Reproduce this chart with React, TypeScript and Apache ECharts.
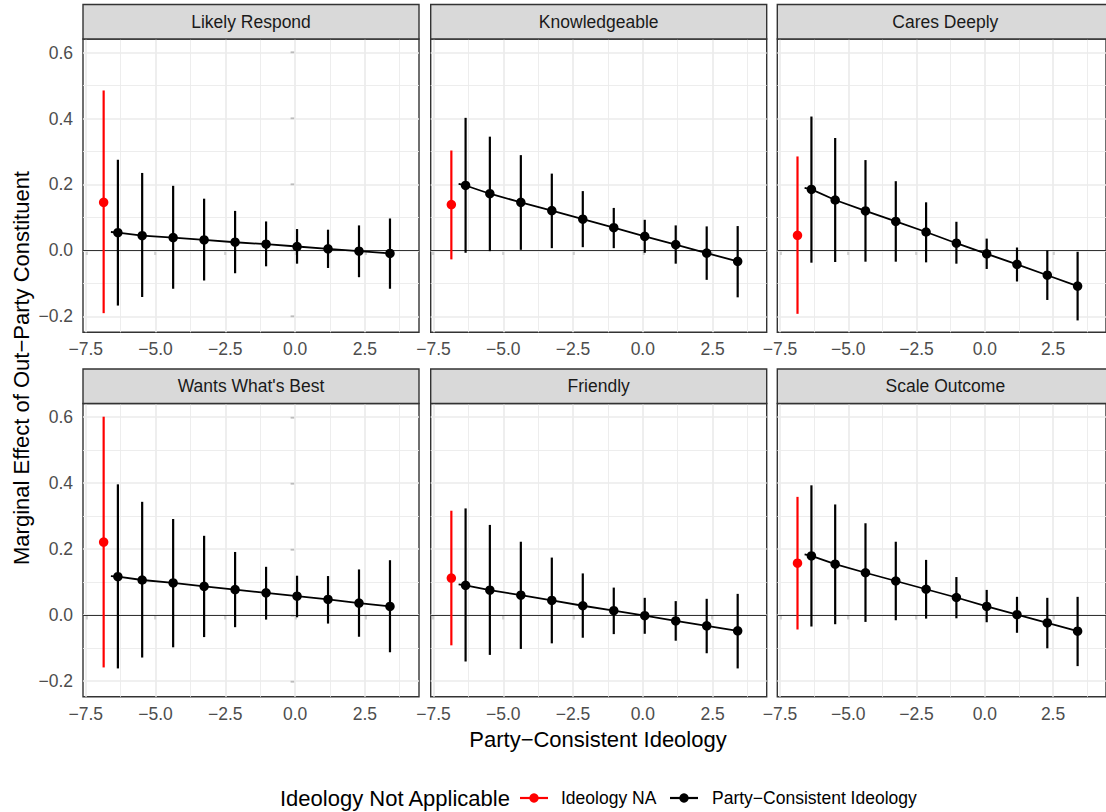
import React, { useEffect, useRef } from "react";
import * as echarts from "echarts";

// ---------- data ----------
const panelNames = [
  "Likely Respond",
  "Knowledgeable",
  "Cares Deeply",
  "Wants What's Best",
  "Friendly",
  "Scale Outcome",
];

const xPositions = [-6.35, -5.48, -4.37, -3.26, -2.15, -1.04, 0.07, 1.18, 2.29, 3.4];
const naX = -6.86;
const fitStartX = -6.6;

const xTickValues = [-7.5, -5, -2.5, 0, 2.5];
const xMinorValues = [-6.25, -3.75, -1.25, 1.25, 3.75];
const yTickValues = [-0.2, 0, 0.2, 0.4, 0.6];
const yMinorValues = [-0.1, 0.1, 0.3, 0.5];

// Likely Respond
const likelyEst = [0.054, 0.045, 0.039, 0.032, 0.025, 0.019, 0.012, 0.005, -0.002, -0.009];
const likelyLo = [-0.167, -0.141, -0.116, -0.091, -0.069, -0.048, -0.04, -0.053, -0.081, -0.116];
const likelyHi = [0.275, 0.235, 0.196, 0.157, 0.12, 0.088, 0.065, 0.063, 0.076, 0.097];
// Knowledgeable
const knowEst = [0.197, 0.172, 0.146, 0.121, 0.095, 0.069, 0.043, 0.018, -0.008, -0.033];
const knowLo = [-0.007, -0.002, 0.002, 0.007, 0.01, 0.007, -0.007, -0.04, -0.089, -0.142];
const knowHi = [0.402, 0.345, 0.289, 0.233, 0.18, 0.129, 0.093, 0.076, 0.073, 0.074];
// Cares Deeply
const caresEst = [0.185, 0.153, 0.12, 0.088, 0.056, 0.022, -0.01, -0.042, -0.075, -0.108];
const caresLo = [-0.037, -0.035, -0.034, -0.034, -0.036, -0.04, -0.056, -0.094, -0.15, -0.212];
const caresHi = [0.406, 0.341, 0.274, 0.21, 0.146, 0.087, 0.036, 0.009, 0.0, -0.004];
// Wants What's Best
const wantsEst = [0.116, 0.106, 0.097, 0.087, 0.077, 0.067, 0.057, 0.047, 0.036, 0.026];
const wantsLo = [-0.162, -0.129, -0.098, -0.067, -0.037, -0.014, -0.007, -0.026, -0.066, -0.113];
const wantsHi = [0.396, 0.343, 0.291, 0.24, 0.191, 0.146, 0.119, 0.118, 0.138, 0.166];
// Friendly
const friendlyEst = [0.09, 0.075, 0.06, 0.044, 0.028, 0.013, -0.002, -0.018, -0.033, -0.048];
const friendlyLo = [-0.141, -0.121, -0.103, -0.086, -0.069, -0.058, -0.057, -0.078, -0.116, -0.162];
const friendlyHi = [0.323, 0.273, 0.222, 0.174, 0.126, 0.083, 0.052, 0.042, 0.049, 0.064];
// Scale Outcome
const scaleEst = [0.179, 0.154, 0.128, 0.103, 0.078, 0.053, 0.026, 0.001, -0.024, -0.049];
const scaleLo = [-0.035, -0.028, -0.021, -0.016, -0.011, -0.01, -0.022, -0.054, -0.101, -0.155];
const scaleHi = [0.393, 0.335, 0.278, 0.222, 0.167, 0.115, 0.076, 0.055, 0.052, 0.055];

// fitted line start values (at fitStartX)
const fitStart = [0.056, 0.202, 0.19, 0.118, 0.093, 0.184];

// Ideology NA estimates per panel
const naEst = [0.146, 0.139, 0.046, 0.221, 0.112, 0.157];
const naLo = [-0.19, -0.027, -0.192, -0.159, -0.092, -0.044];
const naHi = [0.485, 0.303, 0.285, 0.601, 0.316, 0.358];

const estimates = [likelyEst, knowEst, caresEst, wantsEst, friendlyEst, scaleEst];
const lowers = [likelyLo, knowLo, caresLo, wantsLo, friendlyLo, scaleLo];
const uppers = [likelyHi, knowHi, caresHi, wantsHi, friendlyHi, scaleHi];

const FONT = '"Liberation Sans", Arial, Helvetica, sans-serif';

const fmt = (v: number) => (v < 0 ? "\u2212" : "") + Math.abs(v).toFixed(1);

function errorBarRender(color: string) {
  return (params: any, api: any) => {
    const p1 = api.coord([api.value(0), api.value(1)]);
    const p2 = api.coord([api.value(0), api.value(2)]);
    return {
      type: "line",
      shape: { x1: p1[0], y1: p1[1], x2: p2[0], y2: p2[1] },
      style: { stroke: color, lineWidth: 2.2 },
    };
  };
}

export default function App() {
  const ref = useRef<HTMLDivElement>(null);

  useEffect(() => {
    if (!ref.current) return;
    const chart = echarts.init(ref.current, null, { renderer: "svg" });

    const colLeft = [83, 430.7, 777.3];
    const rowTop = [39, 403.5];
    const pw = 336;
    const ph = 293.3;
    const stripH = 34.5;

    const grids: any[] = [];
    const xAxes: any[] = [];
    const yAxes: any[] = [];
    const series: any[] = [];
    const graphics: any[] = [];

    const minorStyle = { color: "#EBEBEB", width: 0.9, type: "solid", opacity: 1 };
    const majorStyle = { color: "#EBEBEB", width: 1.7, type: "solid", opacity: 1 };

    const markLineBase = {
      silent: true,
      symbol: ["none", "none"],
      symbolSize: 0,
      animation: false,
      label: { show: false },
      emphasis: { disabled: true },
    };

    for (let i = 0; i < 6; i++) {
      const r = Math.floor(i / 3);
      const c = i % 3;
      grids.push({
        left: colLeft[c],
        top: rowTop[r],
        width: pw,
        height: ph,
        show: true,
        backgroundColor: "#FFFFFF",
        borderColor: "#333333",
        borderWidth: 1.4,
        containLabel: false,
      });
      xAxes.push({
        type: "value",
        gridIndex: i,
        min: -7.6,
        max: 4.44,
        axisLine: { show: false },
        splitLine: { show: false },
        minorSplitLine: { show: false },
        axisTick: {
          show: true,
          customValues: xTickValues,
          length: 4.5,
          lineStyle: { color: "#333333", width: 1.4 },
        },
        axisLabel: {
          show: true,
          customValues: xTickValues,
          formatter: fmt,
          color: "#4D4D4D",
          fontSize: 17.5,
          fontFamily: FONT,
          margin: 8,
        },
      });
      yAxes.push({
        type: "value",
        gridIndex: i,
        min: -0.248,
        max: 0.641,
        axisLine: { show: false },
        splitLine: { show: false },
        minorSplitLine: { show: false },
        axisTick: {
          show: c === 0,
          customValues: yTickValues,
          length: 4.5,
          lineStyle: { color: "#333333", width: 1.4 },
        },
        axisLabel: {
          show: c === 0,
          customValues: yTickValues,
          formatter: fmt,
          color: "#4D4D4D",
          fontSize: 17.5,
          fontFamily: FONT,
          margin: 10,
        },
      });

      // gridlines
      series.push({
        type: "line",
        xAxisIndex: i,
        yAxisIndex: i,
        data: [],
        z: 1,
        silent: true,
        markLine: {
          ...markLineBase,
          z: 1,
          data: [
            ...xMinorValues.map((v) => ({ xAxis: v, lineStyle: minorStyle })),
            ...yMinorValues.map((v) => ({ yAxis: v, lineStyle: minorStyle })),
            ...xTickValues.map((v) => ({ xAxis: v, lineStyle: majorStyle })),
            ...yTickValues.map((v) => ({ yAxis: v, lineStyle: majorStyle })),
          ],
        },
      });
      // zero line
      series.push({
        type: "line",
        xAxisIndex: i,
        yAxisIndex: i,
        data: [],
        z: 2,
        silent: true,
        markLine: {
          ...markLineBase,
          z: 2,
          data: [{ yAxis: 0, lineStyle: { color: "#333333", width: 1, type: "solid", opacity: 1 } }],
        },
      });
      // NA error bar
      series.push({
        type: "custom",
        name: "Ideology NA",
        xAxisIndex: i,
        yAxisIndex: i,
        z: 3,
        silent: true,
        renderItem: errorBarRender("#FF0000"),
        encode: { x: 0, y: [1, 2] },
        data: [[naX, naLo[i], naHi[i]]],
      });
      series.push({
        type: "scatter",
        name: "Ideology NA",
        xAxisIndex: i,
        yAxisIndex: i,
        z: 6,
        silent: true,
        symbol: "circle",
        symbolSize: 9.5,
        itemStyle: { color: "#FF0000", opacity: 1 },
        data: [[naX, naEst[i]]],
      });
      // party-consistent error bars
      series.push({
        type: "custom",
        name: "Party-Consistent Ideology",
        xAxisIndex: i,
        yAxisIndex: i,
        z: 3,
        silent: true,
        renderItem: errorBarRender("#000000"),
        encode: { x: 0, y: [1, 2] },
        data: xPositions.map((x, k) => [x, lowers[i][k], uppers[i][k]]),
      });
      // fitted line
      series.push({
        type: "line",
        xAxisIndex: i,
        yAxisIndex: i,
        z: 4,
        silent: true,
        symbol: "none",
        lineStyle: { color: "#000000", width: 1.8, opacity: 1 },
        data: [[fitStartX, fitStart[i]], ...xPositions.map((x, k) => [x, estimates[i][k]])],
      });
      // points
      series.push({
        type: "scatter",
        xAxisIndex: i,
        yAxisIndex: i,
        z: 6,
        silent: true,
        symbol: "circle",
        symbolSize: 9.5,
        itemStyle: { color: "#000000", opacity: 1 },
        data: xPositions.map((x, k) => [x, estimates[i][k]]),
      });

      // strip
      graphics.push({
        type: "rect",
        shape: { x: colLeft[c], y: rowTop[r] - stripH, width: pw, height: stripH },
        style: { fill: "#D9D9D9", stroke: "#333333", lineWidth: 1.4 },
        z: 10,
      });
      graphics.push({
        type: "text",
        x: colLeft[c] + pw / 2,
        y: rowTop[r] - stripH / 2,
        style: {
          text: panelNames[i],
          fill: "#1A1A1A",
          fontSize: 17.5,
          fontFamily: FONT,
          align: "center",
          verticalAlign: "middle",
        },
        z: 11,
      });
    }

    // axis titles
    graphics.push({
      type: "text",
      x: 598,
      y: 739,
      style: {
        text: "Party\u2212Consistent Ideology",
        fill: "#000000",
        fontSize: 22,
        fontFamily: FONT,
        align: "center",
        verticalAlign: "middle",
      },
    });
    graphics.push({
      type: "text",
      x: 21,
      y: 368,
      rotation: Math.PI / 2,
      style: {
        text: "Marginal Effect of Out\u2212Party Constituent",
        fill: "#000000",
        fontSize: 22,
        fontFamily: FONT,
        align: "center",
        verticalAlign: "middle",
      },
    });

    // legend
    const ly = 798;
    graphics.push({
      type: "text",
      x: 280,
      y: ly,
      style: {
        text: "Ideology Not Applicable",
        fill: "#000000",
        fontSize: 22,
        fontFamily: FONT,
        align: "left",
        verticalAlign: "middle",
      },
    });
    const legendItems = [
      { color: "#FF0000", x0: 520, label: "Ideology NA", tx: 561 },
      { color: "#000000", x0: 670, label: "Party\u2212Consistent Ideology", tx: 712 },
    ];
    legendItems.forEach((it) => {
      graphics.push({
        type: "line",
        shape: { x1: it.x0, y1: ly, x2: it.x0 + 28, y2: ly },
        style: { stroke: it.color, lineWidth: 2.2 },
      });
      graphics.push({
        type: "circle",
        shape: { cx: it.x0 + 14, cy: ly, r: 4.7 },
        style: { fill: it.color },
      });
      graphics.push({
        type: "text",
        x: it.tx,
        y: ly,
        style: {
          text: it.label,
          fill: "#000000",
          fontSize: 17.5,
          fontFamily: FONT,
          align: "left",
          verticalAlign: "middle",
        },
      });
    });

    chart.setOption({
      animation: false,
      backgroundColor: "#FFFFFF",
      grid: grids,
      xAxis: xAxes,
      yAxis: yAxes,
      series,
      graphic: graphics,
    });

    return () => chart.dispose();
  }, []);

  return (
    <div
      ref={ref}
      style={{ position: "fixed", left: 0, top: 0, width: 1106, height: 812, background: "#fff" }}
    />
  );
}
